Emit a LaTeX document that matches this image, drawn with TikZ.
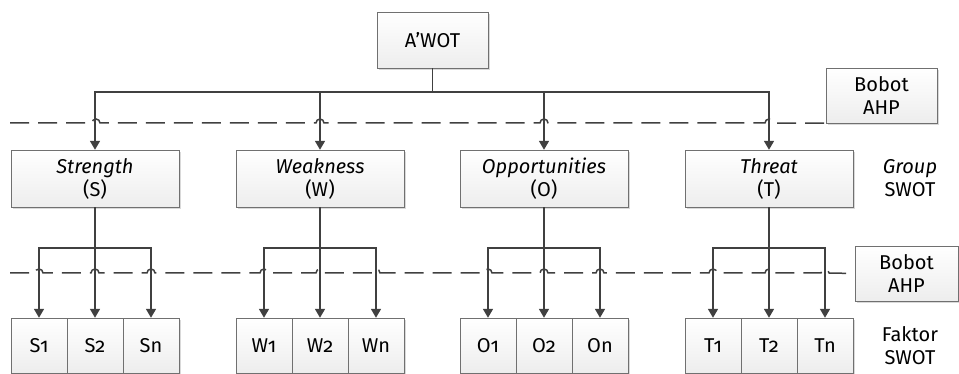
\documentclass[tikz,border=0pt]{standalone}
\usepackage{fontspec}
\setmainfont{Fira Sans}[Numbers=OldStyle]
\usetikzlibrary{arrows.meta,shadows}
\definecolor{linegray}{HTML}{404040}
\definecolor{boxline}{HTML}{707070}
\tikzset{
  box/.style={draw=boxline, top color=white, bottom color=black!7,
    general shadow={fill=black!15, shadow xshift=2pt, shadow yshift=-2pt},
    align=center, inner sep=0pt, font=\fontsize{20}{23}\selectfont},
  grp/.style={box, minimum width=168pt, minimum height=57pt},
  fak/.style={box, minimum width=56pt, minimum height=55pt},
  note/.style={align=center, font=\fontsize{20}{23}\selectfont},
  link/.style={draw=linegray, line width=1.6pt},
  arr/.style={link, -{Triangle[length=9pt,width=10pt]}},
  bobot/.style={draw=linegray, line width=1.5pt, dash pattern=on 19pt off 9pt},
}
\begin{document}
\begin{tikzpicture}[x=1pt,y=-1pt]
  \useasboundingbox (0,0) rectangle (959,374);
  \node[box, minimum width=111pt, minimum height=56pt] (awot) at (432.5,40) {A’WOT};
  \node[box, minimum width=111pt, minimum height=55pt] (ahp1) at (881.5,95.5) {Bobot\\AHP};
  \node[box, minimum width=103pt, minimum height=55pt] (ahp2) at (906.5,273.5) {Bobot\\AHP};
  \node[note] (grplbl) at (910,178) {\textit{Group}\\SWOT};
  \node[note] (faklbl) at (910,346) {Faktor\\SWOT};
  % weights
  \draw[bobot] (10,123) \foreach \x in {96,320,544,769} {
    -- (\x-4,123) arc[start angle=180, end angle=0, radius=4pt]} -- (ahp1.south west);
  \draw[bobot] (10,273) \foreach \x in {39,95,151,264,320,376,488,544,600,713,769,825} {
    -- (\x-4,273) arc[start angle=180, end angle=0, radius=4pt]} -- (ahp2.west);
  % groups and factors
  \foreach \g/\c/\name in {S/95/Strength,W/320/Weakness,O/544/Opportunities,T/769/Threat} {
    \node[grp] (\g) at (\c,178.5) {\textit{\name}\\(\g)};
    \node[fak] (\g1) at (\c-56,345.5) {\g1};
    \node[fak] (\g2) at (\c,345.5) {\g2};
    \node[fak] (\g n) at (\c+56,345.5) {\g n};
  }
  \draw[link] (awot.south) -- ++(0,24) coordinate (tbus);
  \foreach \g in {S,W,O,T} {
    \draw[arr] (tbus) -| (\g.north);
    \draw[link] (\g.south) -- ++(0,41) coordinate (\g bus);
    \draw[arr] (\g bus) -| (\g1.north);
    \draw[arr] (\g bus) -- (\g2.north);
    \draw[arr] (\g bus) -| (\g n.north);
  }
\end{tikzpicture}
\end{document}
